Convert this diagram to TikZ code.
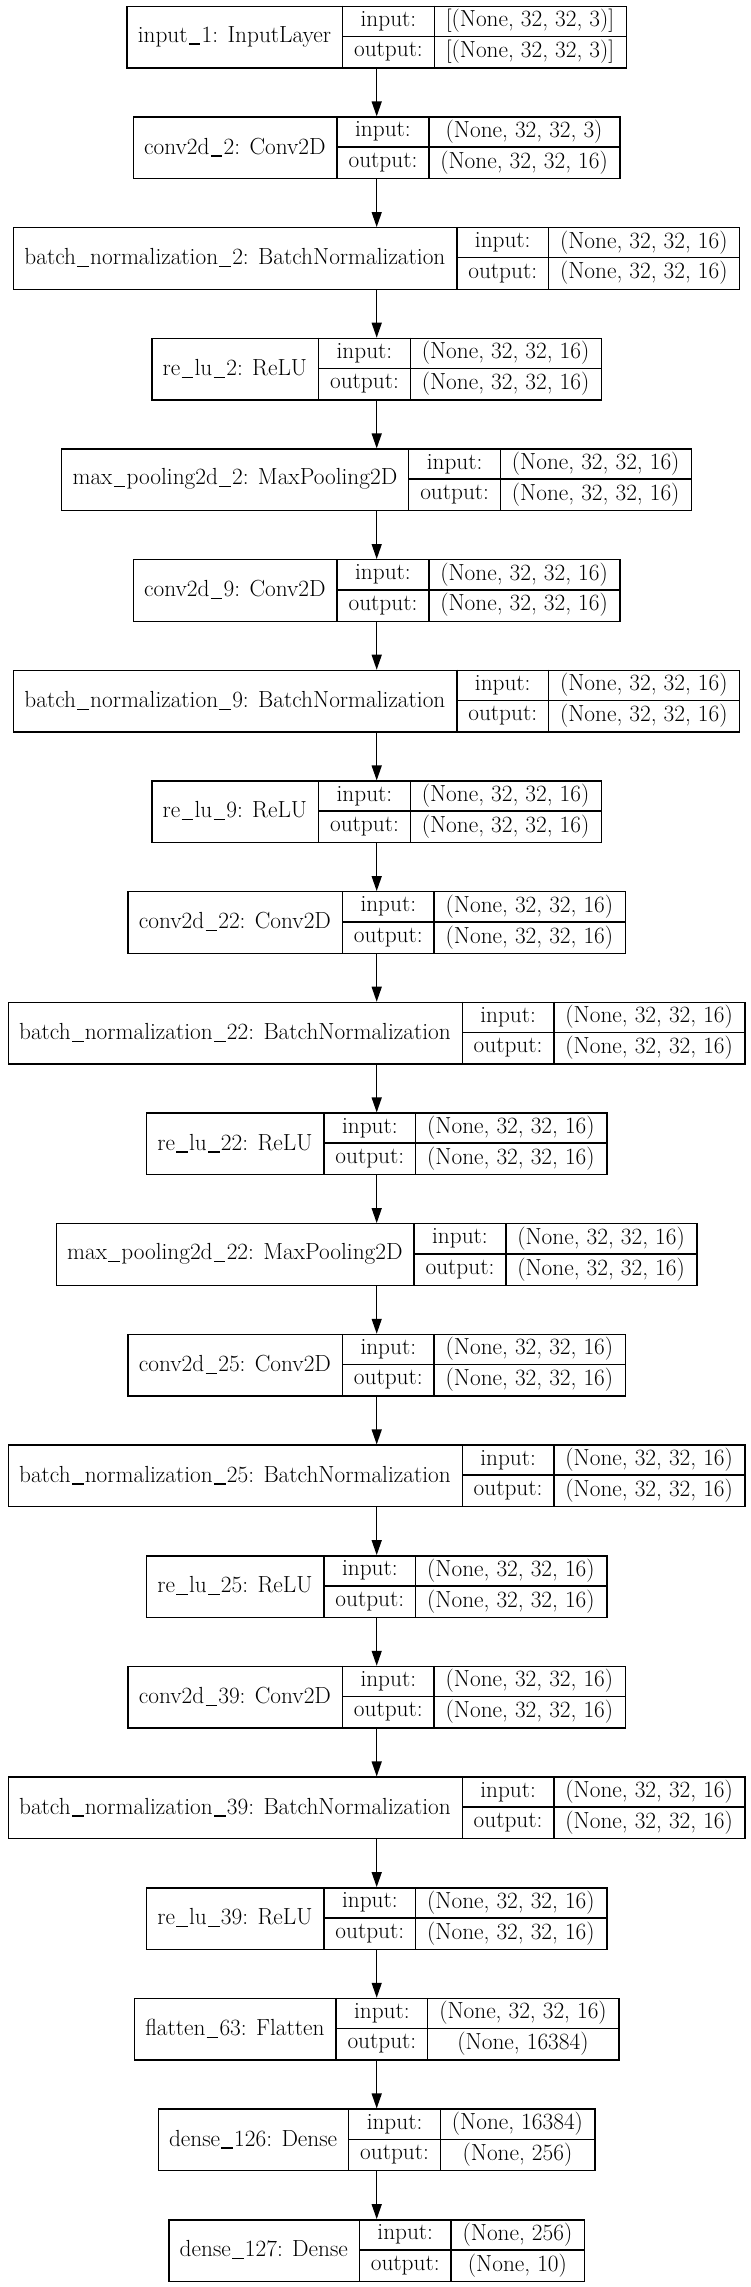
\documentclass[tikz,border=0pt]{standalone}
\usepackage{fontspec}
\usetikzlibrary{arrows.meta}
\newcommand\lfont{\fontsize{23.3}{28}\selectfont}
\newcommand\us{\kern1.3pt\rule[-2.5pt]{11.5pt}{1.1pt}\kern1.3pt}
\newlength\wA \newlength\wB \newlength\wC \newlength\wTmp
\tikzset{
  layerbox/.style={draw=black, line width=1.4pt, inner sep=0pt, rectangle},
  cellline/.style={draw=black, line width=1.4pt},
  txt/.style={inner sep=0pt, font=\lfont, anchor=center},
  arr/.style={draw=black, line width=1.4pt, -{Triangle[length=15pt,width=10pt]}}
}
\newcommand\layer[5]{%
  \pgfinterruptpicture
    \setbox0\hbox{\normalfont\lfont #3}\global\wA=\wd0
    \setbox0\hbox{\normalfont\lfont output:}\global\wB=\wd0
    \setbox0\hbox{\normalfont\lfont #4}\global\wC=\wd0
    \setbox0\hbox{\normalfont\lfont #5}\global\wTmp=\wd0
  \endpgfinterruptpicture
  \ifdim\wTmp>\wC \wC=\wTmp\fi
  \pgfmathsetmacro\tot{\wA+\wB+\wC+69}%
  \pgfmathsetmacro\xa{376-\tot/2}%
  \pgfmathsetmacro\xb{\xa+\wA+23}%
  \pgfmathsetmacro\xc{\xb+\wB+23}%
  \pgfmathsetmacro\xd{\xa+\tot}%
  \pgfmathsetmacro\yt{-(5.7+110.67*#2)}%
  \pgfmathsetmacro\yb{\yt-61.5}%
  \pgfmathsetmacro\ym{\yt-30.75}%
  \node[layerbox, minimum width=\tot, minimum height=61.5, anchor=north west] (#1) at (\xa,\yt) {};
  \draw[cellline] (\xb,\yt) -- (\xb,\yb) (\xc,\yt) -- (\xc,\yb) (\xb,\ym) -- (\xd,\ym);
  \node[txt] (#1-n) at ({(\xa+\xb)/2},{(\yt+\yb)/2}) {#3};
  \node[txt] (#1-i) at ({(\xb+\xc)/2},{(\yt+\ym)/2}) {input:};
  \node[txt] (#1-o) at ({(\xb+\xc)/2},{(\ym+\yb)/2}) {output:};
  \node[txt] (#1-iv) at ({(\xc+\xd)/2},{(\yt+\ym)/2}) {#4};
  \node[txt] (#1-ov) at ({(\xc+\xd)/2},{(\ym+\yb)/2}) {#5};
}
\begin{document}
\begin{tikzpicture}[x=1pt,y=1pt]
\useasboundingbox[fill=white] (0,0) rectangle (751,-2287);
\def\s{(None, 32, 32, 16)}
\layer{L1}{0}{input\us 1: InputLayer}{[(None, 32, 32, 3)]}{[(None, 32, 32, 3)]}
\layer{L2}{1}{conv2d\us 2: Conv2D}{(None, 32, 32, 3)}{\s}
\layer{L3}{2}{batch\us normalization\us 2: BatchNormalization}{\s}{\s}
\layer{L4}{3}{re\us lu\us 2: ReLU}{\s}{\s}
\layer{L5}{4}{max\us pooling2d\us 2: MaxPooling2D}{\s}{\s}
\layer{L6}{5}{conv2d\us 9: Conv2D}{\s}{\s}
\layer{L7}{6}{batch\us normalization\us 9: BatchNormalization}{\s}{\s}
\layer{L8}{7}{re\us lu\us 9: ReLU}{\s}{\s}
\layer{L9}{8}{conv2d\us 22: Conv2D}{\s}{\s}
\layer{L10}{9}{batch\us normalization\us 22: BatchNormalization}{\s}{\s}
\layer{L11}{10}{re\us lu\us 22: ReLU}{\s}{\s}
\layer{L12}{11}{max\us pooling2d\us 22: MaxPooling2D}{\s}{\s}
\layer{L13}{12}{conv2d\us 25: Conv2D}{\s}{\s}
\layer{L14}{13}{batch\us normalization\us 25: BatchNormalization}{\s}{\s}
\layer{L15}{14}{re\us lu\us 25: ReLU}{\s}{\s}
\layer{L16}{15}{conv2d\us 39: Conv2D}{\s}{\s}
\layer{L17}{16}{batch\us normalization\us 39: BatchNormalization}{\s}{\s}
\layer{L18}{17}{re\us lu\us 39: ReLU}{\s}{\s}
\layer{L19}{18}{flatten\us 63: Flatten}{\s}{(None, 16384)}
\layer{L20}{19}{dense\us 126: Dense}{(None, 16384)}{(None, 256)}
\layer{L21}{20}{dense\us 127: Dense}{(None, 256)}{(None, 10)}
\foreach \a [evaluate=\a as \b using int(\a+1)] in {1,...,20}
  \draw[arr] (L\a.south) -- (L\b.north);
\end{tikzpicture}
\end{document}
